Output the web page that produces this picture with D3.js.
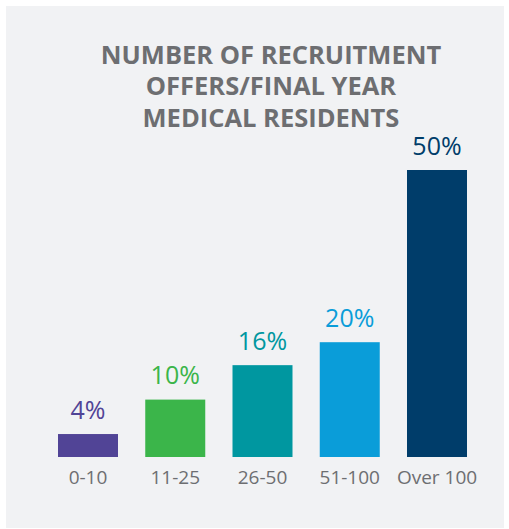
<!DOCTYPE html>
<meta charset="utf-8">
<style>
body { margin: 0; background: #fff; }
text { font-family: "Open Sans", sans-serif; }
.title { font-weight: 700; fill: #6d6e71; font-size: 25.5px; }
.cat { fill: #6d6e71; font-size: 19px; }
.val { font-size: 25px; }
</style>
<svg width="509" height="529"></svg>
<script src="https://cdn.jsdelivr.net/npm/d3@7"></script>
<script>

// data
var categories = ["0-10", "11-25", "26-50", "51-100", "Over 100"];
var values = [4, 10, 16, 20, 50];
var colors = ["#514496", "#3bb54a", "#0097a0", "#0a9dd9", "#003d6a"];
var titleLines = ["NUMBER OF RECRUITMENT", "OFFERS/FINAL YEAR", "MEDICAL RESIDENTS"];

var svg = d3.select("svg");

// grey panel
svg.append("rect")
    .attr("x", 6).attr("y", 6)
    .attr("width", 498).attr("height", 522)
    .attr("fill", "#f1f2f4");

svg.selectAll("text.title")
    .data(titleLines)
    .enter().append("text")
    .attr("class", "title")
    .attr("x", 271)
    .attr("y", function(d, i) { return 63.5 + i * 31.7; })
    .attr("text-anchor", "middle")
    .text(function(d) { return d; });

var x = d3.scaleBand()
    .domain(categories)
    .range([58, 467])
    .paddingInner(0.3123)
    .paddingOuter(0);

var y = d3.scaleLinear()
    .domain([0, 50])
    .range([457, 170]);

var data = categories.map(function(c, i) {
  return {cat: c, value: values[i], color: colors[i]};
});

svg.selectAll("rect.bar")
    .data(data)
    .enter().append("rect")
    .attr("class", "bar")
    .attr("x", function(d) { return x(d.cat); })
    .attr("y", function(d) { return y(d.value); })
    .attr("width", x.bandwidth())
    .attr("height", function(d) { return y(0) - y(d.value); })
    .attr("fill", function(d) { return d.color; });

svg.selectAll("text.val")
    .data(data)
    .enter().append("text")
    .attr("class", "val")
    .attr("x", function(d) { return x(d.cat) + x.bandwidth() / 2; })
    .attr("y", function(d) { return y(d.value) - 15.5; })
    .attr("text-anchor", "middle")
    .attr("fill", function(d) { return d.color; })
    .text(function(d) { return d.value + "%"; });

// category labels under the bars
var xAxis = d3.axisBottom(x).tickSize(0).tickPadding(0);
var gx = svg.append("g")
    .attr("transform", "translate(0,457)")
    .call(xAxis);
gx.select(".domain").remove();
gx.selectAll("text")
    .attr("class", "cat")
    .attr("dy", null)
    .attr("y", 27)
    .attr("font-family", null)
    .attr("font-size", null)
    .attr("fill", null);

</script>
